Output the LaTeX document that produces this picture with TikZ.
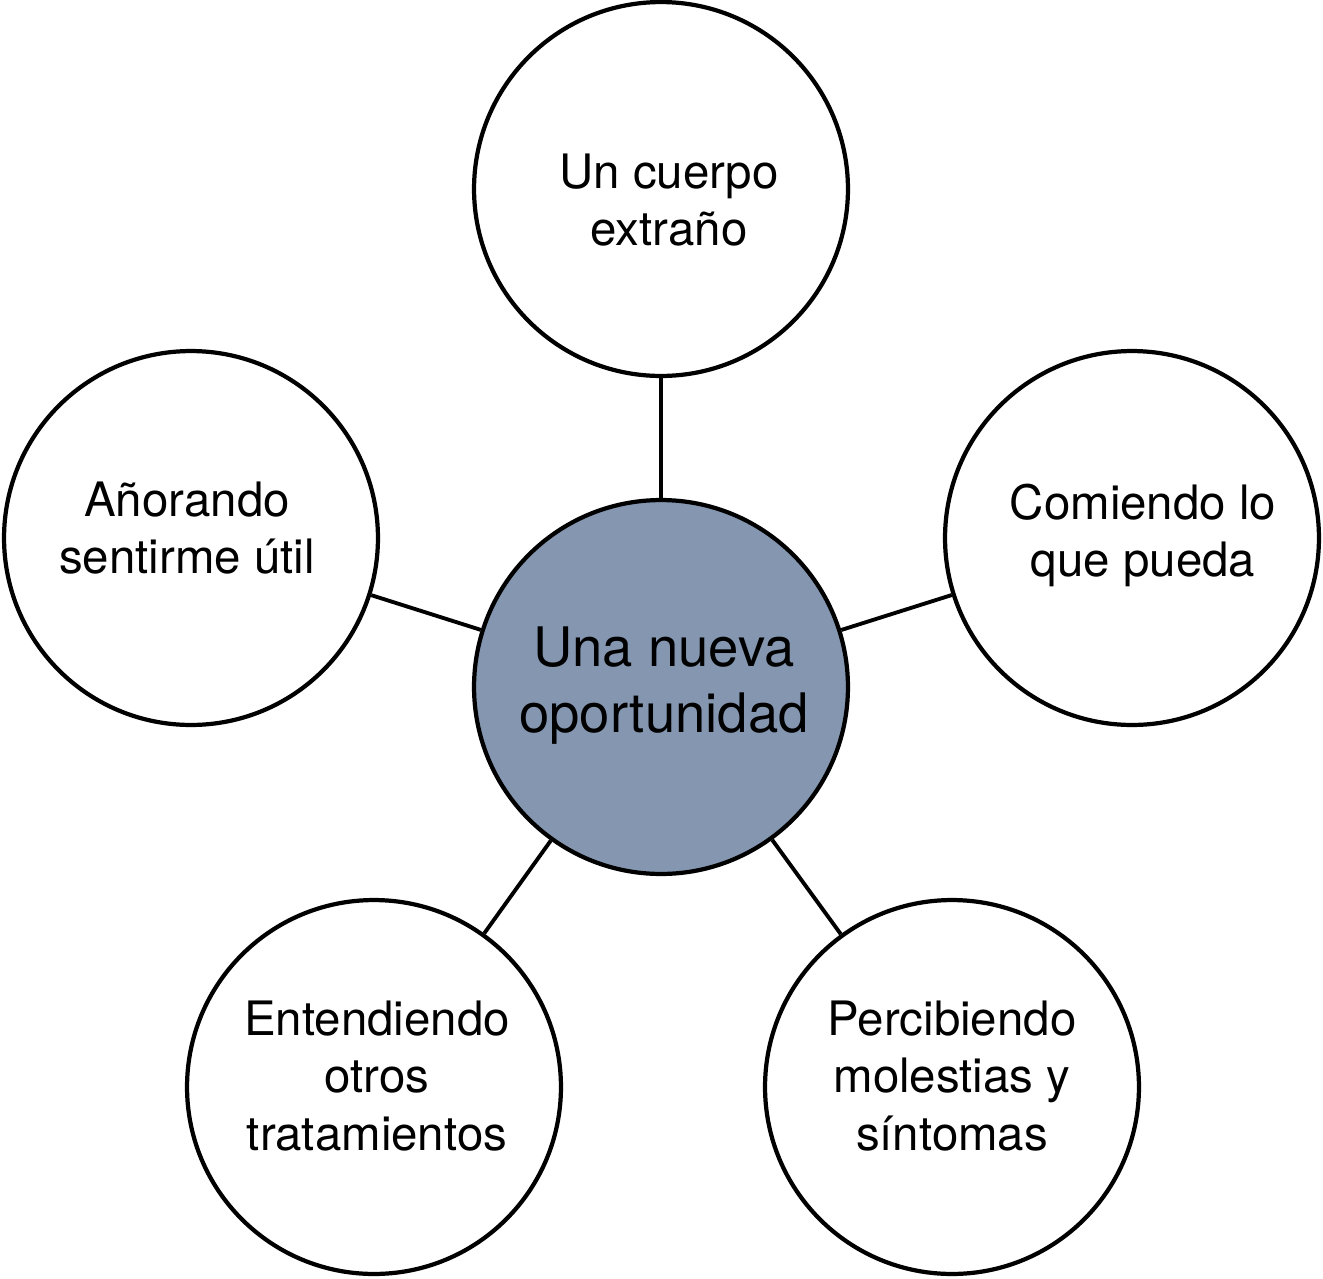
\documentclass[tikz,border=0pt]{standalone}
\usepackage{fontspec}
\setmainfont{TeX Gyre Heros}
\definecolor{hubfill}{RGB}{132,150,176}
\begin{document}
\begin{tikzpicture}[x=0.02cm,y=-0.02cm,
  bubble/.style={circle,draw=black,line width=2.4pt,minimum size=7.48cm,inner sep=0pt,fill=white},
  hub/.style={bubble,fill=hubfill},
  lbl/.style={align=center,font=\fontsize{27}{32.5}\selectfont,inner sep=0pt},
  hublbl/.style={align=center,font=\fontsize{31}{37.5}\selectfont,inner sep=0pt},
  link/.style={line width=2.2pt}]
\useasboundingbox (0,0) rectangle (1323,1279);
\node[hub] (c) at (661,687) {};
\node[bubble] (t) at (661,189) {};
\node[bubble] (l) at (191,538) {};
\node[bubble] (r) at (1132,538) {};
\node[bubble] (bl) at (374,1087) {};
\node[bubble] (br) at (952,1087) {};
\draw[link] (t) -- (c);
\draw[link] (l) -- (c);
\draw[link] (r) -- (c);
\draw[link] (bl) -- (c);
\draw[link] (br) -- (c);
\node[hublbl] (ct) at (664,686) {Una nueva\\oportunidad};
\node[lbl] (tt) at (669,200) {Un cuerpo\\extraño};
\node[lbl] (lt) at (187,528) {Añorando\\sentirme útil};
\node[lbl] (rt) at (1143,535) {Comiendo lo\\que pueda};
\node[lbl] (blt) at (377,1076) {Entendiendo\\otros\\tratamientos};
\node[lbl] (brt) at (952,1076) {Percibiendo\\molestias y\\síntomas};
\end{tikzpicture}
\end{document}
